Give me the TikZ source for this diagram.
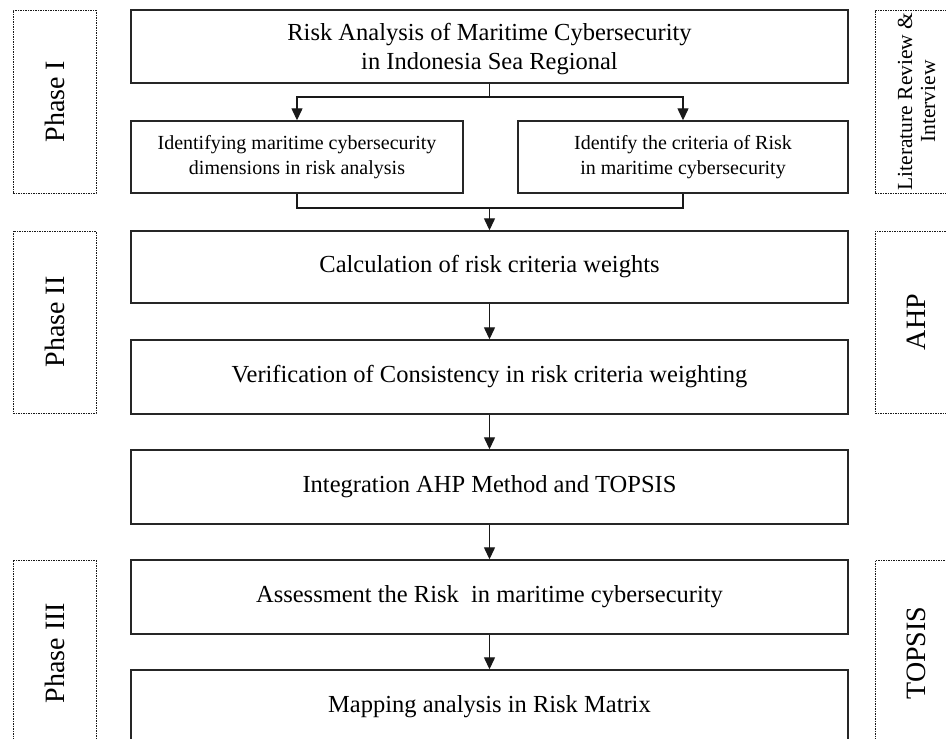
\documentclass[tikz,border=0pt]{standalone}
\usepackage{fontspec}
\setmainfont{Liberation Serif}
\usetikzlibrary{arrows.meta}
\begin{document}
\begin{tikzpicture}[x=1pt,y=-1pt,
  stepbox/.style={draw=black!85, line width=1.4pt, rectangle, inner sep=2pt, align=center,
     font=\fontsize{24.5}{30}\selectfont},
  subbox/.style={stepbox, font=\fontsize{20}{25}\selectfont},
  phasebox/.style={draw=black!90, line width=0.9pt, dash pattern=on 1.5pt off 1pt, rectangle},
  sidelabel/.style={rotate=90, align=center, font=\fontsize{28}{32}\selectfont},
  arr/.style={line width=1.3pt, draw=black!90, -{Triangle[length=12pt,width=11pt]}},
  ln/.style={line width=1.3pt, draw=black!90}]
\useasboundingbox (0,0) rectangle (946,739);
\clip (0,0) rectangle (946,739);
% main flow boxes
\node[stepbox, minimum width=717pt, minimum height=73pt] (top) at (489.5,46.5) {};
\node[align=center, font=\fontsize{24.5}{29}\selectfont, inner sep=0pt] (toptext) at (489.5,49)
  {Risk Analysis of Maritime Cybersecurity\\in Indonesia Sea Regional};
\node[subbox, minimum width=332pt, minimum height=72pt] (sub1) at (297,157)
  {Identifying maritime cybersecurity\\dimensions in risk analysis};
\node[subbox, minimum width=330pt, minimum height=72pt] (sub2) at (683,157)
  {Identify the criteria of Risk\\in maritime cybersecurity};
\node[stepbox, minimum width=717pt, minimum height=72pt] (calc) at (489.5,267)
  {Calculation of risk criteria weights};
\node[stepbox, minimum width=717pt, minimum height=74pt] (verif) at (489.5,377)
  {Verification of Consistency in risk criteria weighting};
\node[stepbox, minimum width=717pt, minimum height=74pt] (integ) at (489.5,487)
  {Integration AHP Method and TOPSIS};
\node[stepbox, minimum width=717pt, minimum height=74pt] (assess) at (489.5,597)
  {Assessment the Risk \ in maritime cybersecurity};
\node[stepbox, minimum width=717pt, minimum height=74pt] (map) at (489.5,707)
  {Mapping analysis in Risk Matrix};
% phase boxes (left)
\node[phasebox, minimum width=83pt, minimum height=183pt] (p1) at (54.5,101.5) {};
\node[sidelabel] (p1t) at (p1.center) {Phase I};
\node[phasebox, minimum width=83pt, minimum height=182pt] (p2) at (54.5,322) {};
\node[sidelabel] (p2t) at (p2.center) {Phase II};
\node[phasebox, minimum width=83pt, minimum height=186pt] (p3) at (54.5,653) {};
\node[sidelabel] (p3t) at (p3.center) {Phase III};
% method boxes (right)
\node[phasebox, minimum width=83pt, minimum height=183pt] (m1) at (916.5,101.5) {};
\node[sidelabel, font=\fontsize{21.5}{23}\selectfont] (m1t) at (m1.center) {Literature Review \&\\Interview};
\node[phasebox, minimum width=83pt, minimum height=182pt] (m2) at (916.5,322) {};
\node[sidelabel] (m2t) at (m2.center) {AHP};
\node[phasebox, minimum width=83pt, minimum height=186pt] (m3) at (916.5,653) {};
\node[sidelabel] (m3t) at (m3.center) {TOPSIS};
% connectors
\coordinate (split) at (489.5,97);
\coordinate (join) at (489.5,208);
\draw[ln] (top.south) -- (split);
\draw[arr] (split) -| (sub1.north);
\draw[arr] (split) -| (sub2.north);
\draw[ln] (sub1.south) |- (join) -| (sub2.south);
\draw[arr] (join) -- (calc.north);
\draw[arr] (calc) -- (verif);
\draw[arr] (verif) -- (integ);
\draw[arr] (integ) -- (assess);
\draw[arr] (assess) -- (map);
\end{tikzpicture}
\end{document}
